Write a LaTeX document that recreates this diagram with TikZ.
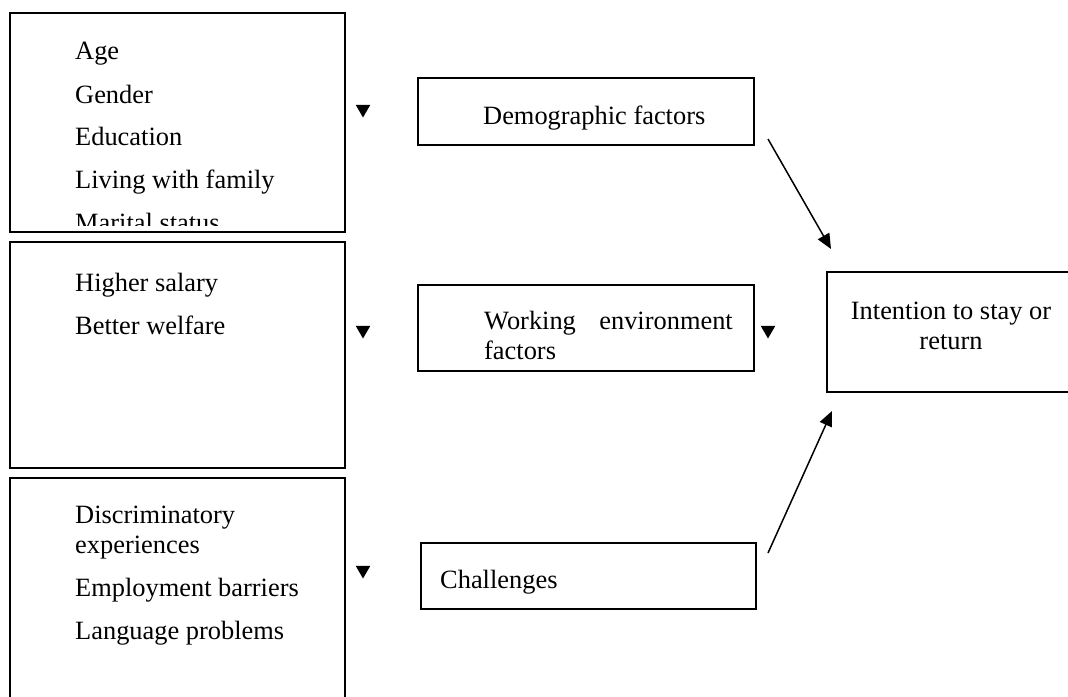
\documentclass[tikz,border=0pt]{standalone}
\usepackage{fontspec}
\setmainfont{Liberation Serif}
\usetikzlibrary{arrows.meta,shapes.geometric}
\begin{document}
\begin{tikzpicture}[x=1pt,y=-1pt,
  box/.style={draw=black,line width=2pt,inner sep=0pt,fill=none},
  txt/.style={anchor=base west,inner sep=0pt,font=\fontsize{26.4}{30}\selectfont,text=black},
  txte/.style={anchor=base east,inner sep=0pt,font=\fontsize{26.4}{30}\selectfont,text=black},
  txtc/.style={anchor=base,inner sep=0pt,font=\fontsize{26.4}{30}\selectfont,text=black},
  tri/.style={regular polygon,regular polygon sides=3,shape border rotate=180,fill=black,draw=none,minimum size=17pt,inner sep=0pt},
  arr/.style={line width=1.5pt,-{Triangle[length=15pt,width=13pt]}}]
\useasboundingbox (0,0) rectangle (1068,696);
% left boxes
\node (b1) [box,minimum width=335pt,minimum height=219pt] at (177.5,122.5) {};
\node (b2) [box,minimum width=335pt,minimum height=226pt] at (177.5,355) {};
\node (b3) [box,minimum width=335pt,minimum height=242pt] at (177.5,599) {};
\begin{scope}
\clip (12,15) rectangle (343,225);
\node (l1) [txt] at (75,59) {Age};
\node (l2) [txt] at (75,103) {Gender};
\node (l3) [txt] at (75,145) {Education};
\node (l4) [txt] at (75,188) {Living with family};
\node (l5) [txt] at (75,231) {Marital status};
\end{scope}
\node (m1) [txt] at (75,291) {Higher salary};
\node (m2) [txt] at (75,334) {Better welfare};
\node (n1) [txt] at (75,523) {Discriminatory};
\node (n2) [txt] at (75,553) {experiences};
\node (n3) [txt] at (75,596) {Employment barriers};
\node (n4) [txt] at (75,639) {Language problems};
% triangles
\node (t1) [tri] at (363,109) {};
\node (t2) [tri] at (363,330) {};
\node (t3) [tri] at (363,570) {};
\node (t4) [tri] at (768,330) {};
% middle boxes
\node (dem) [box,minimum width=336pt,minimum height=67pt] at (586,111.5) {};
\node (demt) [txt] at (483,124) {Demographic factors};
\node (work) [box,minimum width=336pt,minimum height=86pt] at (586,328) {};
\node (workt1) [txt] at (484,329) {Working};
\node (workt2) [txte] at (733,329) {environment};
\node (workt3) [txt] at (484,359) {factors};
\node (chal) [box,minimum width=335pt,minimum height=66pt] at (588.5,576) {};
\node (chalt) [txt] at (440,588) {Challenges};
% right box
\node (int) [box,minimum width=248pt,minimum height=120pt] at (951,332) {};
\node (intt1) [txtc] at (951,319) {Intention to stay or};
\node (intt2) [txtc] at (951,349) {return};
% arrows
\coordinate (a1s) at (768,139);
\coordinate (a1e) at (831,249);
\coordinate (a2s) at (768,553);
\coordinate (a2e) at (832,411);
\draw[arr] (a1s) -- (a1e);
\draw[arr] (a2s) -- (a2e);
\end{tikzpicture}
\end{document}
